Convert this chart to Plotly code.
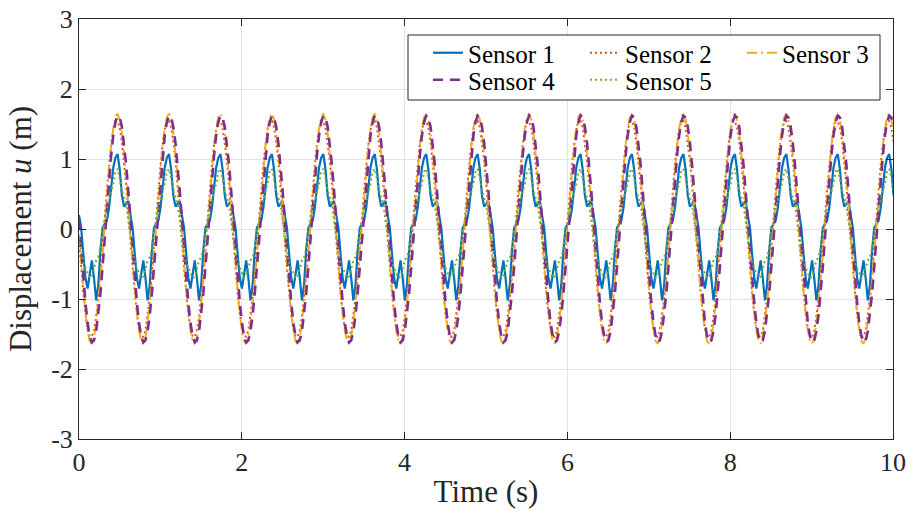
import numpy as np
import plotly.graph_objects as go

# ---------------- data ----------------
PERIOD = 0.632          # s, one oscillation cycle
T_END = 10.0            # s, end of record
# one cycle of each sensor, sampled at 24 equally spaced phases
SENSOR1_CYCLE = [0.20, 0.02, -0.35, -0.70, -0.85, -0.62, -0.45, -0.70, -1.02, -0.80, -0.30, 0.02,
                 0.08, 0.12, 0.30, 0.60, 0.88, 1.02, 1.07, 0.85, 0.48, 0.32, 0.36, 0.40]
SENSOR2_CYCLE = [-0.16, -0.56, -0.91, -1.20, -1.42, -1.53, -1.54, -1.45, -1.25, -0.98, -0.63, -0.24,
                 0.16, 0.56, 0.91, 1.20, 1.42, 1.53, 1.54, 1.45, 1.25, 0.98, 0.63, 0.24]
SENSOR3_CYCLE = [-0.08, -0.48, -0.88, -1.20, -1.45, -1.60, -1.64, -1.55, -1.35, -1.08, -0.75, -0.38,
                 0.05, 0.46, 0.86, 1.19, 1.44, 1.60, 1.65, 1.56, 1.38, 1.10, 0.76, 0.36]
SENSOR4_CYCLE = [0.13, -0.30, -0.70, -1.05, -1.34, -1.53, -1.62, -1.59, -1.46, -1.23, -0.92, -0.54,
                 -0.13, 0.30, 0.70, 1.05, 1.34, 1.53, 1.62, 1.59, 1.46, 1.23, 0.92, 0.54]
SENSOR5_CYCLE = [-0.12, -0.32, -0.48, -0.55, -0.62, -0.70, -0.68, -0.58, -0.45, -0.40, -0.28, -0.05,
                 0.15, 0.30, 0.42, 0.52, 0.65, 0.82, 0.86, 0.72, 0.55, 0.45, 0.35, 0.12]
SENSOR_NAMES = ["Sensor 1", "Sensor 2", "Sensor 3", "Sensor 4", "Sensor 5"]
X_TICKS = [0, 2, 4, 6, 8, 10]
Y_TICKS = [-3, -2, -1, 0, 1, 2, 3]
X_TITLE = "Time (s)"
Y_TITLE = "Displacement <i>u</i> (m)"

# ---------------- build the time series (repeat the read cycle) ----------------
cycles = [SENSOR1_CYCLE, SENSOR2_CYCLE, SENSOR3_CYCLE, SENSOR4_CYCLE, SENSOR5_CYCLE]
n_per = len(SENSOR1_CYCLE)
dt = PERIOD / n_per
n_samples = int(np.ceil(T_END / dt)) + 1
t = np.arange(n_samples) * dt
n_rep = int(np.ceil(n_samples / n_per))
series = [np.tile(np.array(c), n_rep)[:n_samples] for c in cycles]

colors = ["#0072BD", "#D95319", "#EDB120", "#7E2F8E", "#77AC30"]
dashes = ["solid", "2px,3px", "10px,4px,2px,4px", "10px,7px", "2px,3px"]
widths = [2.2, 2.0, 2.0, 2.6, 2.0]
legends = ["legend", "legend", "legend", "legend2", "legend2"]

FONT = "Liberation Serif"

fig = go.Figure()
for name, y, c, d, w, lg in zip(SENSOR_NAMES, series, colors, dashes, widths, legends):
    fig.add_trace(go.Scatter(x=t, y=y, mode="lines", name=name,
                             line=dict(color=c, dash=d, width=w),
                             legend=lg))

L, R, T, B = 79, 16, 19, 83
W, H = 909, 522
pw = W - L - R
ph = H - T - B

def px_x(p):
    return (p - L) / pw

def px_y(p):
    return (H - B - p) / ph

axis_common = dict(
    showline=True, linecolor="#262626", linewidth=1, mirror="ticks",
    ticks="inside", ticklen=7, tickcolor="#262626", tickwidth=1,
    showgrid=True, gridcolor="#E3E3E3", gridwidth=1, zeroline=False,
    tickfont=dict(family=FONT, size=26, color="#262626"),
)

leg_common = dict(orientation="h", xanchor="left", yanchor="top",
                  entrywidth=112, entrywidthmode="pixels", bgcolor="rgba(0,0,0,0)", borderwidth=0,
                  font=dict(family=FONT, size=25, color="black"), tracegroupgap=0)

fig.update_layout(
    width=W, height=H,
    margin=dict(l=L, r=R, t=T, b=B, autoexpand=False),
    paper_bgcolor="white", plot_bgcolor="white",
    font=dict(family=FONT, color="#262626"),
    xaxis=dict(range=[0, 10], tickvals=X_TICKS, ticktext=[str(v) for v in X_TICKS],
               title=dict(text=X_TITLE, font=dict(family=FONT, size=31, color="#262626"), standoff=4),
               **axis_common),
    yaxis=dict(range=[-3, 3], tickvals=Y_TICKS, ticktext=[str(v) for v in Y_TICKS],
               title=dict(text=Y_TITLE, font=dict(family=FONT, size=31, color="#262626"), standoff=10),
               ticklabelstandoff=0,
               **axis_common),
    legend=dict(x=px_x(428), y=px_y(30), **leg_common),
    legend2=dict(x=px_x(428), y=px_y(57), **leg_common),
    shapes=[dict(type="rect", xref="paper", yref="paper",
                 x0=px_x(408), x1=px_x(880), y0=px_y(100), y1=px_y(35),
                 line=dict(color="#262626", width=1), fillcolor="white", layer="above")],
    showlegend=True,
)

fig.write_html("out.html")
